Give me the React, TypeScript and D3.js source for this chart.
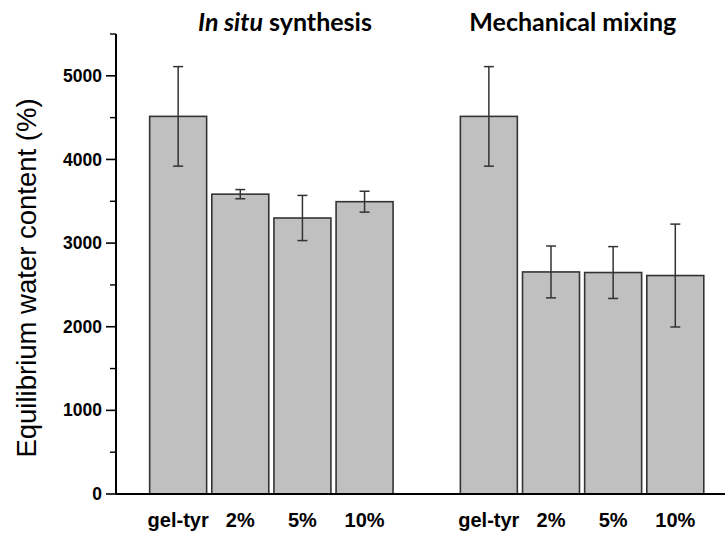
import * as d3 from "d3";
import React from "react";

// bar values (%)
const groups = ["In situ synthesis", "Mechanical mixing"];
const categories = ["gel-tyr", "2%", "5%", "10%"];
const inSitu = [4515, 3585, 3300, 3495];
const inSituErr = [595, 55, 270, 125];
const mechanical = [4515, 2655, 2648, 2612];
const mechanicalErr = [595, 310, 310, 615];
const yTicks = [0, 1000, 2000, 3000, 4000, 5000];

const W = 725;
const H = 538;
const left = 116;
const baseY = 494;

interface Bar {
  label: string;
  pos: number;
  value: number;
  err: number;
}

const bars: Bar[] = [
  ...categories.map((c, i) => ({ label: c, pos: i + 1, value: inSitu[i], err: inSituErr[i] })),
  ...categories.map((c, i) => ({ label: c, pos: i + 6, value: mechanical[i], err: mechanicalErr[i] })),
];

export default function App() {
  const x = d3.scaleLinear().domain([0, 9.8]).range([left, W]);
  const y = d3.scaleLinear().domain([0, 5500]).range([baseY, 34]);
  const bw = (x(1) - x(0)) * 0.917;
  const minor = d3.range(500, 5501, 1000);
  const titleX = [x(2.72), x(7.35)];

  return (
    <svg width={W} height={H} style={{ position: "absolute", left: 0, top: 0, background: "#fff" }}>
      {bars.map((b, i) => (
        <g key={i}>
          <rect
            x={x(b.pos) - bw / 2}
            y={y(b.value)}
            width={bw}
            height={y(0) - y(b.value)}
            fill="#c0c0c0"
            stroke="#333"
            strokeWidth={1.6}
          />
          <line x1={x(b.pos)} x2={x(b.pos)} y1={y(b.value + b.err)} y2={y(b.value - b.err)} stroke="#333" strokeWidth={1.5} />
          <line x1={x(b.pos) - 5} x2={x(b.pos) + 5} y1={y(b.value + b.err)} y2={y(b.value + b.err)} stroke="#333" strokeWidth={1.5} />
          <line x1={x(b.pos) - 5} x2={x(b.pos) + 5} y1={y(b.value - b.err)} y2={y(b.value - b.err)} stroke="#333" strokeWidth={1.5} />
          <text
            x={x(b.pos)}
            y={baseY + 33}
            textAnchor="middle"
            fontFamily="'Liberation Sans', Arial, sans-serif"
            fontWeight="bold"
            fontSize={20}
          >
            {b.label}
          </text>
        </g>
      ))}

      {/* axes */}
      <line x1={left} x2={left} y1={y(5500)} y2={baseY} stroke="#000" strokeWidth={2} />
      <line x1={left} x2={W} y1={baseY} y2={baseY} stroke="#000" strokeWidth={2.2} />
      {yTicks.map((t) => (
        <g key={t}>
          <line x1={left - 10} x2={left} y1={y(t)} y2={y(t)} stroke="#000" strokeWidth={1.6} />
          <text
            x={left - 14}
            y={y(t)}
            dy="0.35em"
            textAnchor="end"
            fontFamily="'Liberation Sans', Arial, sans-serif"
            fontWeight="bold"
            fontSize={17.5}
          >
            {t}
          </text>
        </g>
      ))}
      {minor.map((t) => (
        <line key={t} x1={left - 6} x2={left} y1={y(t)} y2={y(t)} stroke="#000" strokeWidth={1.4} />
      ))}

      <text
        transform={`translate(36,278) rotate(-90)`}
        textAnchor="middle"
        fontFamily="'Liberation Sans', Arial, sans-serif"
        fontSize={27.5}
      >
        Equilibrium water content (%)
      </text>

      <text x={titleX[0]} y={31} textAnchor="middle" fontFamily="Lato, sans-serif" fontWeight="bold" fontSize={25}>
        <tspan fontStyle="italic">In situ</tspan> synthesis
      </text>
      <text x={titleX[1]} y={31} textAnchor="middle" fontFamily="Lato, sans-serif" fontWeight="bold" fontSize={25}>
        {groups[1]}
      </text>
    </svg>
  );
}
